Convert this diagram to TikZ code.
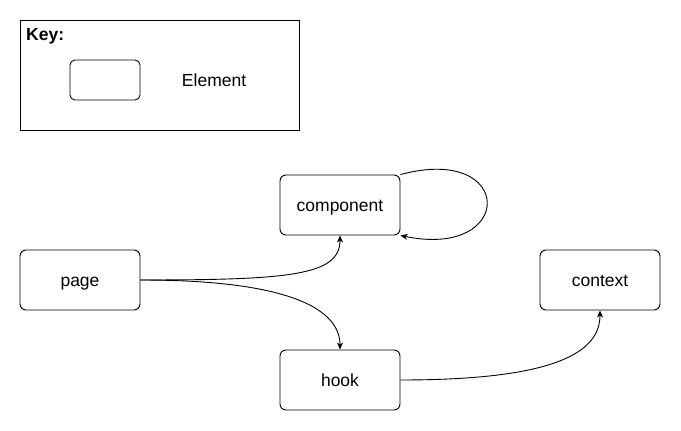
\documentclass[tikz,border=0pt]{standalone}
\usepackage{fontspec}
\setmainfont{Liberation Sans}
\usetikzlibrary{arrows.meta, positioning}

\begin{document}
\begin{tikzpicture}[
x=1pt, y=-1pt,
box/.style={
draw,
rounded corners=6pt,
minimum width=120pt,
minimum height=60pt,
align=center,
line width=0.9pt,
text height=17pt,
text depth=4pt,
font=\fontsize{17.5}{20}\selectfont
},
keybox/.style={draw, line width=0.9pt, minimum width=279pt, minimum height=110pt},
arrow/.style={-{Stealth[length=7pt, width=6pt, inset=2pt]}, line width=0.9pt}
]
\useasboundingbox (0,0) rectangle (681,431);

% key
\node[keybox] (key) at (159.5,75) {};
\node[anchor=base west, inner sep=0pt, font=\bfseries\fontsize{17.5}{20}\selectfont] (keytitle) at (26,41) {Key:};
\node[draw, rounded corners=5pt, minimum width=70pt, minimum height=40pt, line width=0.9pt] (sample) at (105,80) {};
\node[right=38pt of sample, text height=17pt, text depth=4pt, font=\fontsize{17.5}{20}\selectfont] (sampletext) {Element};


\node[box] (component) at (340,205) {component};
\node[box] (page) at (80,280) {page};
\node[box] (hook) at (340,380) {hook};
\node[box] (context) at (600,280) {context};


\draw[arrow] (page.east) .. controls +(150,0) and +(0,40) .. (component.south);
\draw[arrow] (page.east) .. controls +(150,0) and +(0,-40) .. (hook.north);
\draw[arrow] (hook.east) .. controls +(160,0) and +(0,40) .. (context.south);
\draw[arrow] (component.north east) .. controls +(115,-31) and +(115,24) .. (component.south east);

\end{tikzpicture}
\end{document}
